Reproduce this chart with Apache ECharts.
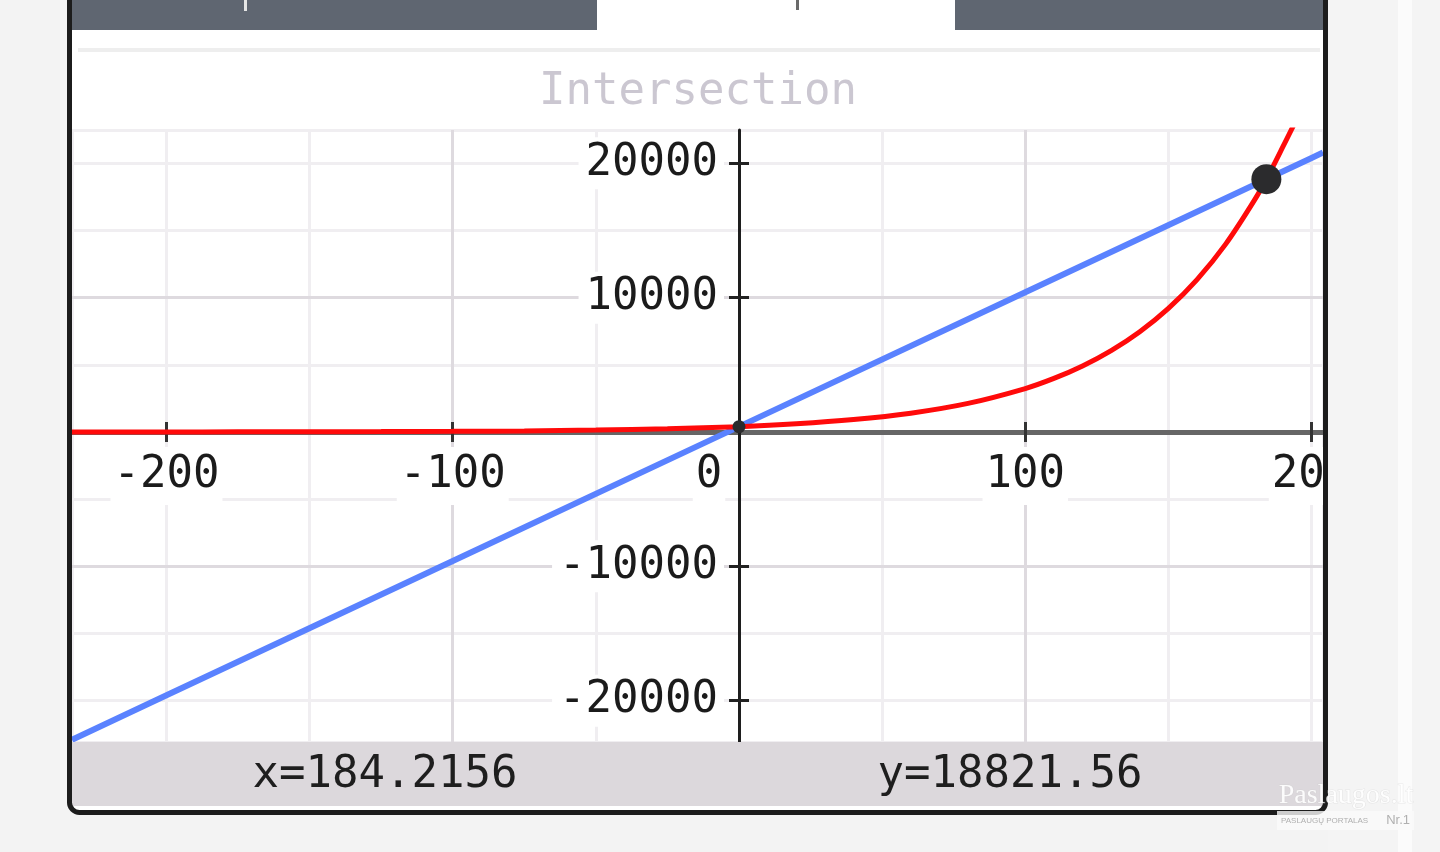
<!DOCTYPE html>
<html>
<head>
<meta charset="utf-8">
<script src="https://cdn.jsdelivr.net/npm/echarts@6/dist/echarts.min.js"></script>
<style>
html,body{margin:0;padding:0;background:#f3f3f3;}
#c{width:1440px;height:852px;}
</style>
</head>
<body>
<div id="c"></div>
<script>
// ---- data ----
const chartTitle = 'Intersection';
const xRange = [-233, 204];
const yRange = [-23074, 22479];
const xTickLabels = [-200, -100, 0, 100, 200];
const yTickLabels = [-20000, -10000, 10000, 20000];

const redX = [-233, -200, -175, -150, -125, -100, -75, -50, -25, 0, 20, 40, 60, 80, 100, 110, 120, 130, 140, 150, 160, 170, 180, 185, 190, 195, 200];
const redY = [3, 6, 10, 17, 29, 49, 83, 141, 237, 400, 608, 923, 1402, 2130, 3236, 3988, 4916, 6060, 7467, 9204, 11344, 13983, 17236, 19133, 21240, 23400, 25900];

const blueX = [-233, -200, -100, 0, 100, 200, 204];
const blueY = [-22900, -19600, -9600, 400, 10400, 20400, 20800];

const pointX = [0, 184.2156];
const pointY = [400, 18821.56];

// ---- layout ----
const GRID = { left: 72, top: 130, width: 1251, height: 612 };
// distance of the zero lines from the grid's left and bottom edges
const zeroFromLeft = (0 - xRange[0]) / (xRange[1] - xRange[0]) * GRID.width;
const zeroFromBottom = (0 - yRange[0]) / (yRange[1] - yRange[0]) * GRID.height;

// ---- styling ----
const FONT = 'DejaVu Sans Mono';
const labelRich = {
  a: { fontFamily: FONT, fontSize: 44, lineHeight: 44, color: '#1b1b1b', backgroundColor: '#ffffff', padding: [7, 3, 7, 3] },
  s: { width: 60, fontSize: 44, lineHeight: 44 }
};
const yLabelRich = {
  a: { fontFamily: FONT, fontSize: 44, lineHeight: 44, color: '#1b1b1b', backgroundColor: '#ffffff', padding: [4, 6, 4, 7] }
};

const chart = echarts.init(document.getElementById('c'), null, { renderer: 'canvas' });

const baseValueAxis = (range) => ({ type: 'value', min: range[0], max: range[1] });

const option = {
  animation: false,
  backgroundColor: '#f3f3f3',
  grid: Object.assign({ containLabel: false, outerBoundsMode: 'none' }, GRID),
  xAxis: [
    Object.assign(baseValueAxis(xRange), {
      position: 'bottom', splitNumber: 4, minInterval: 100, maxInterval: 100, z: 2,
      axisLine: { show: true, onZero: true, onZeroAxisIndex: 0, lineStyle: { color: '#666666', width: 5 } },
      axisTick: { show: true, inside: false, length: 10, customValues: xTickLabels, lineStyle: { color: '#333333', width: 3 } },
      axisLabel: {
        show: true, margin: 22 - zeroFromBottom, showMinLabel: true, showMaxLabel: true, customValues: xTickLabels,
        formatter: (v) => {
          if (!xTickLabels.includes(Math.round(v)) || Math.abs(v - Math.round(v)) > 1e-6) return '';
          if (v === 0) return '{a|0}{s| }';
          return '{a|' + v + '}';
        },
        rich: labelRich
      },
      splitLine: { show: true, showMinLine: false, showMaxLine: false, lineStyle: { color: '#dedadf', width: 3 } }
    }),
    Object.assign(baseValueAxis(xRange), {
      position: 'bottom', splitNumber: 9, minInterval: 50, maxInterval: 50, z: 0,
      axisLine: { show: false, onZero: false },
      axisTick: { show: false }, axisLabel: { show: false },
      splitLine: { show: true, lineStyle: { color: '#f0eef1', width: 3 } }
    }),
    Object.assign(baseValueAxis(xRange), {
      position: 'top', splitNumber: 4, minInterval: 100, maxInterval: 100, z: 2,
      axisLine: { show: false, onZero: true, onZeroAxisIndex: 0 },
      axisTick: { show: true, inside: false, length: 10, customValues: xTickLabels, lineStyle: { color: '#333333', width: 3 } },
      axisLabel: { show: false }, splitLine: { show: false }
    })
  ],
  yAxis: [
    Object.assign(baseValueAxis(yRange), {
      position: 'left', splitNumber: 4, minInterval: 10000, maxInterval: 10000, z: 3,
      axisLine: { show: true, onZero: true, onZeroAxisIndex: 0, lineStyle: { color: '#1e1e1e', width: 3 } },
      axisTick: { show: true, inside: false, length: 10, customValues: yTickLabels, lineStyle: { color: '#222222', width: 3 } },
      axisLabel: {
        show: true, margin: 15 - zeroFromLeft, showMinLabel: true, showMaxLabel: true, customValues: yTickLabels,
        formatter: (v) => yTickLabels.includes(v) ? '{a|' + v + '}' : '',
        rich: yLabelRich
      },
      splitLine: { show: true, showMinLine: false, showMaxLine: false, lineStyle: { color: '#dedadf', width: 3 } }
    }),
    Object.assign(baseValueAxis(yRange), {
      position: 'left', splitNumber: 9, minInterval: 5000, maxInterval: 5000, z: 0,
      axisLine: { show: false, onZero: false },
      axisTick: { show: false }, axisLabel: { show: false },
      splitLine: { show: true, lineStyle: { color: '#f0eef1', width: 3 } }
    }),
    Object.assign(baseValueAxis(yRange), {
      position: 'right', splitNumber: 4, minInterval: 10000, maxInterval: 10000, z: 3,
      axisLine: { show: false, onZero: true, onZeroAxisIndex: 0 },
      axisTick: { show: true, inside: false, length: 10, customValues: yTickLabels, lineStyle: { color: '#222222', width: 3 } },
      axisLabel: { show: false }, splitLine: { show: false }
    })
  ],
  series: [
    {
      type: 'line', name: 'blue', xAxisIndex: 0, yAxisIndex: 0, z: 5,
      data: blueX.map((x, i) => [x, blueY[i]]),
      showSymbol: false, symbol: 'none', clip: true,
      lineStyle: { color: '#5a82ff', width: 6 }
    },
    {
      type: 'line', name: 'red', xAxisIndex: 0, yAxisIndex: 0, z: 6,
      data: redX.map((x, i) => [x, redY[i]]),
      smooth: 0.3, showSymbol: false, symbol: 'none', clip: true,
      lineStyle: { color: '#ff0a0a', width: 5 }
    },
    {
      type: 'scatter', name: 'points', xAxisIndex: 0, yAxisIndex: 0, z: 7,
      data: pointX.map((x, i) => ({ value: [x, pointY[i]], symbolSize: i === 0 ? 13 : 30 })),
      itemStyle: { color: '#2b2b2d', opacity: 1 }
    }
  ],
  graphic: [
    { type: 'rect', z: -10, shape: { x: 69.5, y: -20, width: 1256, height: 832.5, r: 10 }, style: { fill: '#ffffff', stroke: null } },
    { type: 'rect', z: -9, shape: { x: 72, y: 0, width: 525, height: 30 }, style: { fill: '#5f6671' } },
    { type: 'rect', z: -9, shape: { x: 955, y: 0, width: 368, height: 30 }, style: { fill: '#5f6671' } },
    { type: 'rect', z: -9, shape: { x: 244, y: 0, width: 3, height: 11 }, style: { fill: '#e6e6e6' } },
    { type: 'rect', z: -9, shape: { x: 796, y: 0, width: 3, height: 10 }, style: { fill: '#6a6a6a' } },
    { type: 'rect', z: -9, shape: { x: 78, y: 48, width: 1242, height: 4 }, style: { fill: '#eeeeee' } },
    { type: 'text', z: -9, x: 698, y: 93, style: { text: chartTitle, font: '44px "DejaVu Sans Mono"', fill: '#cbc7d1', align: 'center', verticalAlign: 'middle' } },
    { type: 'rect', z: 50, shape: { x: 72, y: 742, width: 1251, height: 64 }, style: { fill: '#dcd8dc' } },
    { type: 'text', z: 51, x: 385, y: 776, style: { text: 'x=' + pointX[1], font: '44px "DejaVu Sans Mono"', fill: '#1e1e1e', align: 'center', verticalAlign: 'middle' } },
    { type: 'text', z: 51, x: 1010, y: 776, style: { text: 'y=' + pointY[1], font: '44px "DejaVu Sans Mono"', fill: '#1e1e1e', align: 'center', verticalAlign: 'middle' } },
    { type: 'rect', z: 90, shape: { x: 1328, y: 0, width: 112, height: 852 }, style: { fill: '#f4f4f4' } },
    { type: 'rect', z: 90, shape: { x: 1398, y: 0, width: 14, height: 852 }, style: { fill: '#fbfbfb' } },
    { type: 'rect', z: 95, shape: { x: 69.5, y: -20, width: 1256, height: 832.5, r: 10 }, style: { fill: null, stroke: '#1c1c1c', lineWidth: 5 } },
    { type: 'text', z: 99, x: 1346, y: 796, style: { text: 'Paslaugos.lt', font: '28px "Liberation Serif"', fill: 'rgba(255,255,255,0.9)', align: 'center', verticalAlign: 'middle', stroke: 'rgba(200,200,200,0.35)', lineWidth: 1 } },
    { type: 'rect', z: 98, shape: { x: 1277, y: 811, width: 137, height: 19 }, style: { fill: 'rgba(250,250,250,0.8)' } },
    { type: 'text', z: 99, x: 1281, y: 821, style: { text: 'PASLAUGŲ PORTALAS', font: '8px "Liberation Sans"', fill: '#b0b0b0', align: 'left', verticalAlign: 'middle' } },
    { type: 'text', z: 99, x: 1410, y: 820, style: { text: 'Nr.1', font: '13px "Liberation Sans"', fill: '#b0b0b0', align: 'right', verticalAlign: 'middle' } }
  ]
};

chart.setOption(option);
</script>
</body>
</html>
